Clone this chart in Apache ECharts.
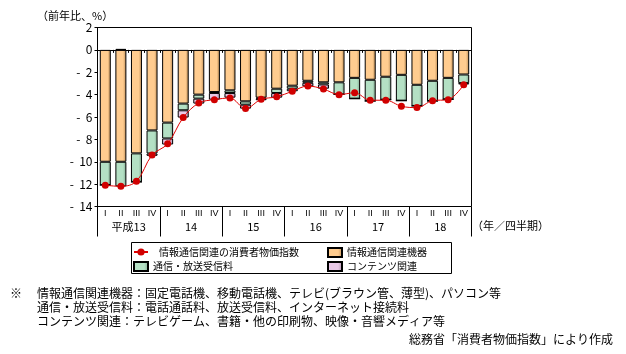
<!DOCTYPE html>
<html><head><meta charset="utf-8">
<script src="https://cdn.jsdelivr.net/npm/echarts@6/dist/echarts.min.js"></script>
<style>html,body{margin:0;padding:0;background:#fff}#c{width:626px;height:354px}</style>
</head><body><div id="c"></div>
<script>
const quarters = ['I','II','III','IV','I','II','III','IV','I','II','III','IV','I','II','III','IV','I','II','III','IV','I','II','III','IV'];
const years = ['平成13','14','15','16','17','18'];
const yTicks = [2,0,-2,-4,-6,-8,-10,-12,-14];
const devices = [-10.0,-10.0,-9.25,-7.2,-6.5,-4.8,-4.0,-3.77,-3.62,-4.6,-4.27,-3.47,-3.2,-2.76,-2.9,-2.9,-2.5,-2.67,-2.4,-2.23,-3.12,-2.76,-2.5,-2.2];
const comm = [-2.08,-2.2,-2.55,-2.06,-1.42,-0.6,-0.36,-0.08,-0.24,-0.3,-0.1,-0.39,-0.27,-0.18,-0.19,-1.08,-1.86,-1.9,-2.05,-2.31,-1.89,-1.81,-1.92,-0.77];
const contents = [0,0.08,0,-0.21,-0.54,-0.65,-0.44,-0.6,-0.41,-0.35,-0.13,-0.41,-0.23,-0.32,-0.38,0,0,0,0,0,0,0,0,-0.12];
const cpi = [-12.1,-12.2,-11.75,-9.4,-8.4,-6.05,-4.75,-4.45,-4.3,-5.25,-4.42,-4.2,-3.7,-3.23,-3.5,-4.0,-3.83,-4.5,-4.5,-5.04,-5.16,-4.54,-4.45,-3.12];
const names = ['情報通信関連の消費者物価指数','情報通信関連機器','通信・放送受信料','コンテンツ関連'];

const FONT = '"Noto Sans CJK JP", sans-serif';
function grad(c, d) {
  return new echarts.graphic.LinearGradient(0,0,1,0,[
    {offset:0,color:c},{offset:0.7,color:c},{offset:1,color:d}]);
}
const chart = echarts.init(document.getElementById('c'), null, {renderer:'canvas'});
const barBase = {type:'bar', stack:'s', barWidth:11, xAxisIndex:0, yAxisIndex:0};
function legendAt(name, left, top, extra) {
  return Object.assign({data:[name], left:left, top:top, padding:0, itemWidth:14, itemHeight:9,
    textStyle:{fontFamily:FONT, fontSize:10, color:'#000'}, selectedMode:false}, extra||{});
}
chart.setOption({
  animation:false,
  textStyle:{fontFamily:FONT},
  grid:{left:97.5, right:154.5, top:27.5, bottom:147.5, show:true, borderColor:'#000', borderWidth:1, containLabel:false},
  xAxis:[
    {type:'category', data:quarters, position:'bottom',
     axisLine:{lineStyle:{color:'#000',width:1}},
     axisTick:{show:true, interval:0, length:3, lineStyle:{color:'#000'}},
     axisLabel:{interval:0, fontSize:9, margin:3, color:'#000', fontFamily:'"Liberation Sans", sans-serif'}},
    {type:'category', data:years, position:'bottom', gridIndex:0,
     axisLine:{show:false},
     axisTick:{show:true, interval:0, length:30, lineStyle:{color:'#000'}},
     axisLabel:{interval:0, fontSize:11, margin:15, color:'#000', fontFamily:FONT}}
  ],
  yAxis:{type:'value', min:yTicks[yTicks.length-1], max:yTicks[0], interval:2,
     axisLine:{show:true, lineStyle:{color:'#000'}},
     axisTick:{show:true, length:3, lineStyle:{color:'#000'}},
     splitLine:{show:false},
     axisLabel:{fontSize:12, color:'#000', margin:5, fontFamily:FONT,
       formatter:v => v < 0 ? '-  ' + (-v) : String(v)}},
  legend:[
    legendAt(names[0], 133, 247, {textStyle:{fontFamily:FONT, fontSize:10, color:'#000', padding:[0,0,0,6]}}),
    legendAt(names[1], 327, 247, {icon:'rect'}),
    legendAt(names[2], 133, 261, {icon:'rect'}),
    legendAt(names[3], 327, 261, {icon:'rect'})
  ],
  series:[
    Object.assign({}, barBase, {name:names[1], data:devices,
      itemStyle:{color:grad('#FFCC8F','#B88A55'), borderColor:'#000', borderWidth:1}}),
    Object.assign({}, barBase, {name:names[2], data:comm,
      itemStyle:{color:grad('#B4E0C4','#7FA58D'), borderColor:'#000', borderWidth:1}}),
    Object.assign({}, barBase, {name:names[3], data:contents,
      itemStyle:{color:grad('#E8C8E6','#A98AA7'), borderColor:'#000', borderWidth:1}}),
    {type:'line', name:names[0], data:cpi, smooth:0.35, z:5,
     symbol:'circle', symbolSize:7,
     lineStyle:{color:'#E00000', width:1},
     itemStyle:{color:'#D00000'}}
  ],
  graphic:[
    {type:'text', left:37, top:10, style:{text:'（前年比、%）', font:'11px '+FONT, fill:'#000'}},
    {type:'text', left:472, top:220, style:{text:'（年／四半期）', font:'11px '+FONT, fill:'#000'}},
    {type:'rect', shape:{x:131.5, y:242.5, width:320, height:31}, style:{fill:'none', stroke:'#000', lineWidth:1}},
    {type:'text', left:10, top:287, style:{text:'※', font:'12px '+FONT, fill:'#000'}},
    {type:'text', left:37, top:287, style:{text:'情報通信関連機器：固定電話機、移動電話機、テレビ(ブラウン管、薄型)、パソコン等', font:'12px '+FONT, fill:'#000'}},
    {type:'text', left:37, top:301, style:{text:'通信・放送受信料：電話通話料、放送受信料、インターネット接続料', font:'12px '+FONT, fill:'#000'}},
    {type:'text', left:37, top:315, style:{text:'コンテンツ関連：テレビゲーム、書籍・他の印刷物、映像・音響メディア等', font:'12px '+FONT, fill:'#000'}},
    {type:'text', right:13, top:333, style:{text:'総務省「消費者物価指数」により作成', font:'12px '+FONT, fill:'#000'}}
  ]
});
</script></body></html>
